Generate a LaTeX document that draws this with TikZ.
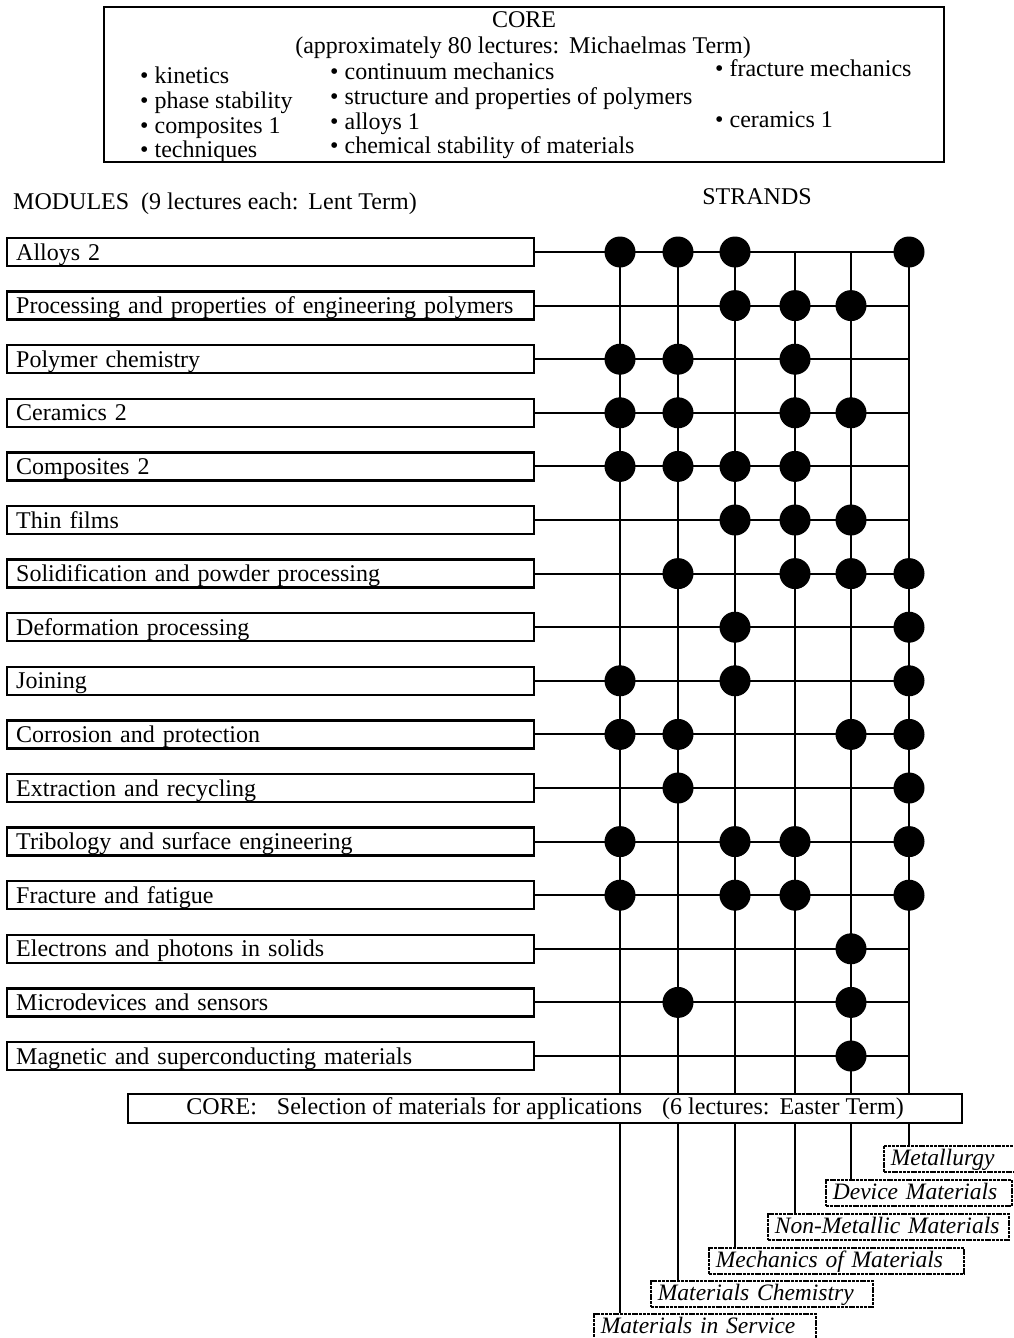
\documentclass[tikz,border=0pt]{standalone}
\usepackage{fontspec}
\setmainfont{Liberation Serif}
\usetikzlibrary{calc}
\newcommand{\fsz}{\fontsize{24}{25}\selectfont}
\newcommand{\itm}{\textbullet\hspace{6pt}}
\tikzset{
  lab/.style={font=\fsz,inner sep=0pt},
  cbox/.style={draw,line width=2.8pt,inner sep=0pt},
  mbox/.style={draw,line width=2.4pt,font=\fsz,anchor=west,text width=509pt,inner xsep=9pt,inner ysep=3pt,text height=19pt,text depth=3pt,align=left},
  sbox/.style={draw,line width=1.8pt,dash pattern=on 3pt off 0.8pt,font=\fontsize{23.5}{24}\selectfont\itshape,anchor=north west,inner xsep=7pt,inner ysep=2pt,text height=18pt,text depth=4pt,align=left},
  wire/.style={line width=1.9pt},
  dot/.style={circle,fill,inner sep=0pt,minimum size=31pt},
}
\begin{document}
\begin{tikzpicture}[x=1pt,y=-1pt]
\useasboundingbox (0,0) rectangle (1013,1338);
% core box on top
\node[cbox,minimum width=840pt,minimum height=155pt] (core1) at (524,84.5) {};
\node[lab,anchor=base] (corehd) at (524,28) {CORE};
\node[lab,anchor=base] (coresub) at (523,54) {(approximately 80 lectures:\hspace{10pt}Michaelmas Term)};
\foreach \txt/\y [count=\i] in {kinetics/84,phase stability/108.5,composites 1/133,techniques/157.5}
  \node[lab,anchor=base west] (ka\i) at (140,\y) {\itm\txt};
\foreach \txt/\y [count=\i] in {continuum mechanics/79,structure and properties of polymers/104,alloys 1/129,chemical stability of materials/153}
  \node[lab,anchor=base west] (kb\i) at (330,\y) {\itm\txt};
\foreach \txt/\y [count=\i] in {fracture mechanics/77,ceramics 1/127}
  \node[lab,anchor=base west] (kc\i) at (715,\y) {\itm\txt};
\node[lab,anchor=base west] (modhd) at (13,209) {MODULES\hspace{12pt}(9 lectures each:\hspace{10pt}Lent Term)};
\node[lab,anchor=base] (strhd) at (757,204) {STRANDS};
% modules
\foreach \txt [count=\i] in {Alloys 2,Processing and properties of engineering polymers,Polymer chemistry,Ceramics 2,Composites 2,Thin films,Solidification and powder processing,Deformation processing,Joining,Corrosion and protection,Extraction and recycling,Tribology and surface engineering,Fracture and fatigue,Electrons and photons in solids,Microdevices and sensors,Magnetic and superconducting materials}
  \node[mbox] (m\i) at (6,{252+53.6*(\i-1)}) {\txt};
% final core
\node[cbox,line width=2.2pt,minimum width=834pt,minimum height=29pt,font=\fsz] (core2) at (545,1108.5)
  {CORE:\hspace{20pt}Selection of materials for applications\hspace{20pt}(6 lectures:\hspace{10pt}Easter Term)};
% strand columns
\foreach \x [count=\i] in {620,678,735,795,851,909}
  \coordinate (c\i) at (\x,252);
\foreach \i in {1,...,16}
  \draw[wire] (m\i.east) -- (m\i.east -| c6);
\foreach \i in {1,...,6}
  \draw[wire] (c\i) -- (c\i |- core2.north);
\foreach \r/\c in {1/1,1/2,1/3,1/6,2/3,2/4,2/5,3/1,3/2,3/4,4/1,4/2,4/4,4/5,5/1,5/2,5/3,5/4,6/3,6/4,6/5,7/2,7/4,7/5,7/6,8/3,8/6,9/1,9/3,9/6,10/1,10/2,10/5,10/6,11/2,11/6,12/1,12/3,12/4,12/6,13/1,13/3,13/4,13/6,14/5,15/2,15/5,16/5}
  \node[dot] (d\r-\c) at (c\c |- m\r.east) {};
% strand labels
\foreach \lx/\ty/\w/\txt [count=\i] in {593/1313/208/Materials in Service,650/1280/208/Materials Chemistry,708/1247/241/Mechanics of Materials,767/1213/227/Non-Metallic Materials,825/1179/172/Device Materials,883/1145/140/Metallurgy}
  \node[sbox,text width=\w pt] (s\i) at (\lx,\ty) {\txt};
\foreach \i in {1,...,6}
  \draw[wire] (c\i |- core2.south) -- (c\i |- s\i.north);
\end{tikzpicture}
\end{document}
